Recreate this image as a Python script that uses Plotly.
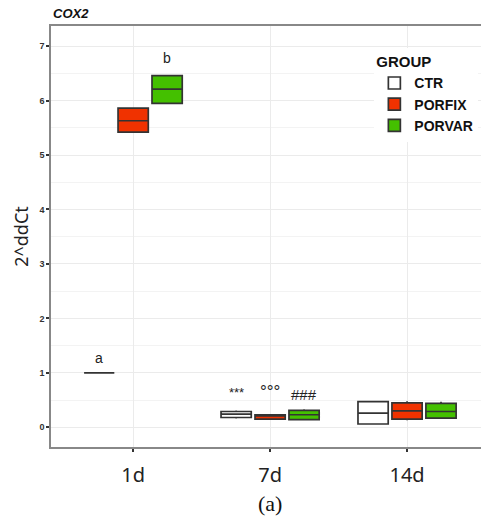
import plotly.graph_objects as go

days = ["1d", "7d", "14d"]
groups = ["CTR", "PORFIX", "PORVAR"]
fills = ["#ffffff", "#f03200", "#44c000"]

# quartile stats per group, per day
q1 = {"CTR": [1.0, 0.18, 0.06], "PORFIX": [5.42, 0.15, 0.15], "PORVAR": [5.95, 0.14, 0.17]}
med = {"CTR": [1.0, 0.24, 0.26], "PORFIX": [5.63, 0.21, 0.30], "PORVAR": [6.21, 0.23, 0.29]}
q3 = {"CTR": [1.0, 0.29, 0.47], "PORFIX": [5.86, 0.23, 0.45], "PORVAR": [6.46, 0.31, 0.44]}
lo = {"CTR": [1.0, 0.16, 0.06], "PORFIX": [5.42, 0.15, 0.13], "PORVAR": [5.95, 0.13, 0.15]}
hi = {"CTR": [1.0, 0.31, 0.47], "PORFIX": [5.86, 0.23, 0.48], "PORVAR": [6.46, 0.33, 0.47]}

# significance labels
sig_day = ["1d", "1d", "7d", "7d", "7d"]
sig_grp = ["CTR", "PORVAR", "CTR", "PORFIX", "PORVAR"]
sig_txt = ["a", "b", "***", "°°°", "###"]
sig_y = [1.27, 6.79, 0.64, 0.66, 0.60]
sig_size = [14, 14, 13, 17, 15]

fig = go.Figure()
for g, c in zip(groups, fills):
    fig.add_trace(go.Box(
        name=g, x=days, q1=q1[g], median=med[g], q3=q3[g],
        lowerfence=lo[g], upperfence=hi[g],
        fillcolor=c, line=dict(color="#333333", width=1.7),
        whiskerwidth=0, boxpoints=False,
    ))

gap = 0.256
step = (1 - gap) / 3
for d, g, t, y, s in zip(sig_day, sig_grp, sig_txt, sig_y, sig_size):
    xi = days.index(d) + (groups.index(g) - 1) * step
    fig.add_annotation(x=xi, y=y, text=t, showarrow=False, xref="x", yref="y",
                       font=dict(family="Liberation Sans, Arial", size=s, color="#222222"))

fig.add_annotation(x=0, y=1, xref="paper", yref="paper", xanchor="left", yanchor="bottom",
                   yshift=3, text="<b><i>COX2</i></b>", showarrow=False,
                   font=dict(family="Liberation Sans, Arial", size=13, color="#111111"))
fig.add_annotation(x=1, y=0, xref="x", yref="paper", yanchor="middle", yshift=-56,
                   text="(a)", showarrow=False,
                   font=dict(family="Liberation Serif, Times New Roman", size=22, color="#111111"))

fig.update_layout(
    width=481, height=518,
    margin=dict(l=51, r=0, t=26, b=71),
    paper_bgcolor="white", plot_bgcolor="white",
    boxmode="group", boxgap=gap, boxgroupgap=0.11,
    showlegend=True,
    legend=dict(
        title=dict(text="<b>GROUP</b>", font=dict(size=15, family="Liberation Sans, Arial", color="#111111")),
        x=0.752, y=0.948, xanchor="left", yanchor="top",
        bgcolor="white", font=dict(size=14, family="Liberation Sans, Arial", color="#111111", weight="bold"),
        itemwidth=30, tracegroupgap=0,
    ),
    xaxis=dict(
        type="category", range=[-0.6, 2.54], automargin=False,
        showgrid=True, gridcolor="#ebebeb", gridwidth=1,
        showline=True, linecolor="#888888", linewidth=1.5, mirror=True,
        ticks="outside", ticklen=3, tickcolor="#333333", tickwidth=2,
        tickfont=dict(size=20, family="Noto Sans, Arial", color="#222222"),
        ticklabelstandoff=6,
    ),
    yaxis=dict(
        range=[-0.362, 7.37], dtick=1, tick0=0, automargin=False,
        showgrid=True, gridcolor="#ebebeb", gridwidth=1,
        minor=dict(dtick=0.5, showgrid=True, gridcolor="#f3f3f3", gridwidth=1),
        showline=True, linecolor="#888888", linewidth=1.5,
        ticks="outside", ticklen=3, tickcolor="#333333", tickwidth=2,
        tickfont=dict(size=9, family="Liberation Sans, Arial", color="#333333", weight="bold"),
        zeroline=False,
        title=dict(text="2^ddCt", font=dict(size=18, family="Noto Sans, Arial", color="#222222"), standoff=6),
    ),
)

fig.write_html("out.html", config={"displayModeBar": False},
               post_script="document.body.style.margin='0';document.body.style.overflow='hidden';")
